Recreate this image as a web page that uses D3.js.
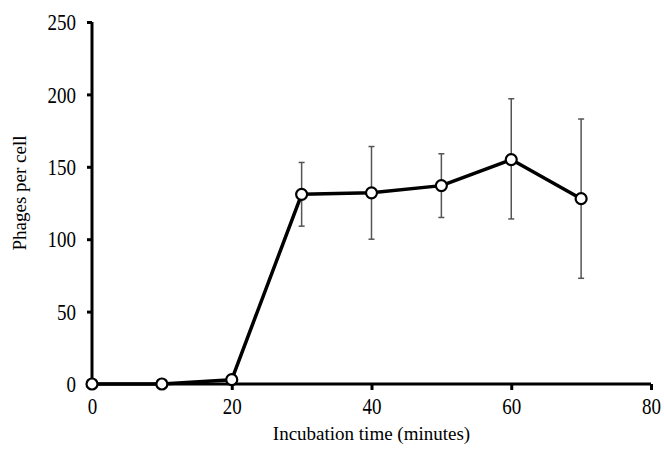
<!DOCTYPE html>
<html>
<head>
<meta charset="utf-8">
<script src="https://cdn.jsdelivr.net/npm/d3@7"></script>
<style>
  body { margin: 0; background: #fff; }
  svg text { font-family: "Liberation Serif", "Times New Roman", serif; fill: #000; }
</style>
</head>
<body>
<div id="chart"></div>
<script>
// incubation time (minutes) and phages per cell, with error bar ends
var times = [0, 10, 20, 30, 40, 50, 60, 70];
var phages = [0, 0, 3, 131, 132, 137, 155, 128];
var errLow = [null, null, null, 109, 100, 115, 114, 73];
var errHigh = [null, null, null, 153, 164, 159, 197, 183];
var xTicks = [0, 20, 40, 60, 80];
var yTicks = [0, 50, 100, 150, 200, 250];

var width = 664, height = 469;
var margin = {left: 92, right: 13, top: 22, bottom: 85};

var svg = d3.select("#chart").append("svg")
    .attr("width", width)
    .attr("height", height);

var x = d3.scaleLinear().domain([0, 80]).range([margin.left, width - margin.right]);
var y = d3.scaleLinear().domain([0, 250]).range([height - margin.bottom, margin.top]);

var data = times.map(function(t, i) {
    return {t: t, v: phages[i], lo: errLow[i], hi: errHigh[i]};
});

// axes
var xAxis = svg.append("g")
    .attr("transform", "translate(0," + y(0) + ")")
    .call(d3.axisBottom(x).tickValues(xTicks).tickSize(6).tickPadding(7));
var yAxis = svg.append("g")
    .attr("transform", "translate(" + x(0) + ",0)")
    .call(d3.axisLeft(y).tickValues(yTicks).tickSize(5).tickPadding(11));

[xAxis, yAxis].forEach(function(ax) {
    ax.attr("font-size", null).attr("font-family", null);
    ax.select(".domain").attr("stroke", "#000").attr("stroke-width", 3);
    ax.selectAll(".tick line").attr("stroke", "#000").attr("stroke-width", 3);
    ax.selectAll(".tick text")
        .attr("fill", "#000")
        .style("font-size", "19px")
        // the labels in the original are drawn a little taller than wide
        .attr("transform", function() {
            var tx = +d3.select(this).attr("x") || 0;
            var ty = +d3.select(this).attr("y") || 0;
            return "translate(" + tx + "," + ty + ") scale(1,1.25) translate(" + (-tx) + "," + (-ty) + ")";
        });
});
xAxis.select(".domain").attr("d", "M" + x(0) + ",0H" + x(80));
yAxis.select(".domain").attr("d", "M0," + y(0) + "V" + y(250));

// error bars
var eb = data.filter(function(d) { return d.lo != null; });
var ebg = svg.append("g").attr("stroke", "#555").attr("stroke-width", 1.5);
ebg.selectAll("line.v").data(eb).enter().append("line")
    .attr("x1", function(d) { return x(d.t); })
    .attr("x2", function(d) { return x(d.t); })
    .attr("y1", function(d) { return y(d.lo); })
    .attr("y2", function(d) { return y(d.hi); });
ebg.selectAll("line.top").data(eb).enter().append("line")
    .attr("x1", function(d) { return x(d.t) - 3; })
    .attr("x2", function(d) { return x(d.t) + 3; })
    .attr("y1", function(d) { return y(d.hi); })
    .attr("y2", function(d) { return y(d.hi); });
ebg.selectAll("line.bot").data(eb).enter().append("line")
    .attr("x1", function(d) { return x(d.t) - 3; })
    .attr("x2", function(d) { return x(d.t) + 3; })
    .attr("y1", function(d) { return y(d.lo); })
    .attr("y2", function(d) { return y(d.lo); });

// line
var line = d3.line()
    .x(function(d) { return x(d.t); })
    .y(function(d) { return y(d.v); });
svg.append("path")
    .datum(data)
    .attr("d", line)
    .attr("fill", "none")
    .attr("stroke", "#000")
    .attr("stroke-width", 3.5)
    .attr("stroke-linejoin", "round");

// markers
svg.selectAll("circle.pt").data(data).enter().append("circle")
    .attr("cx", function(d) { return x(d.t); })
    .attr("cy", function(d) { return y(d.v); })
    .attr("r", 5.5)
    .attr("fill", "#fff")
    .attr("stroke", "#000")
    .attr("stroke-width", 2.2);

// axis titles
svg.append("text")
    .attr("x", (x(0) + x(80)) / 2)
    .attr("y", 440)
    .attr("text-anchor", "middle")
    .style("font-size", "19px")
    .text("Incubation time (minutes)");
svg.append("text")
    .attr("transform", "translate(26,193) rotate(-90)")
    .attr("text-anchor", "middle")
    .style("font-size", "19px")
    .text("Phages per cell");
</script>
</body>
</html>
